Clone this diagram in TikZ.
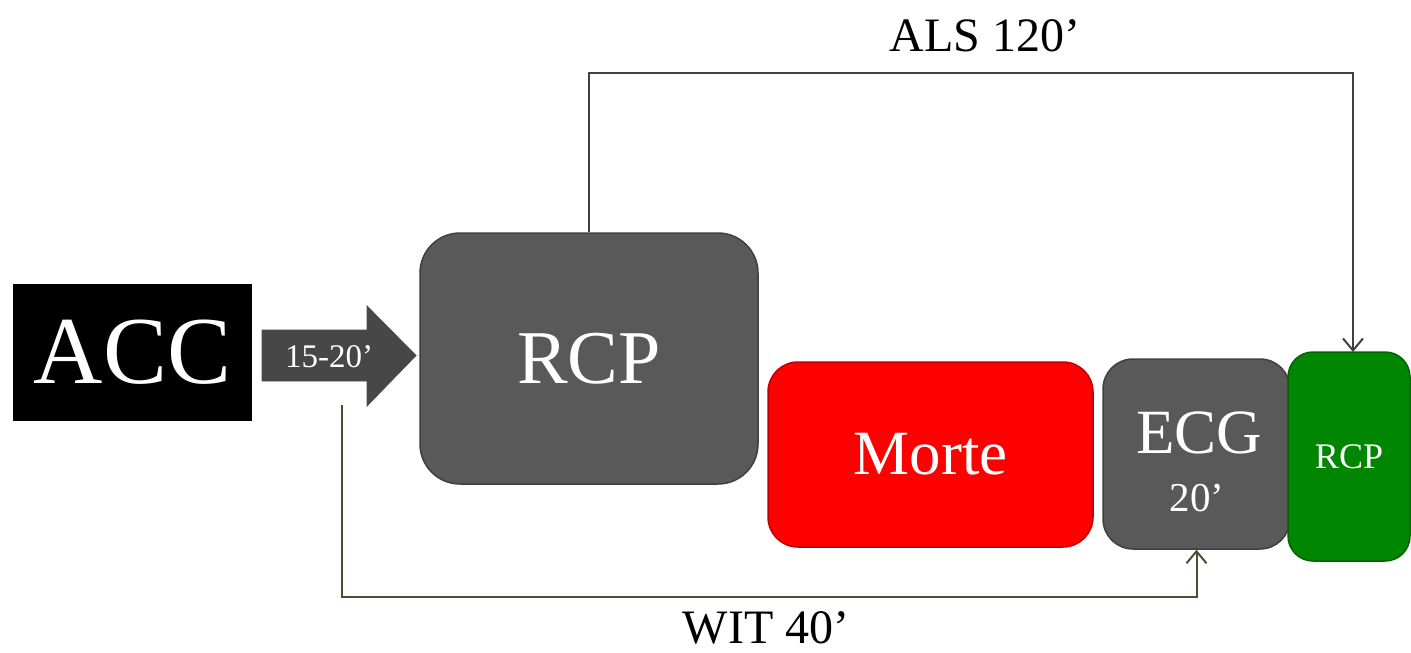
\documentclass[tikz,border=0pt]{standalone}
\usepackage{fontspec}
\setmainfont{Liberation Serif}
\usetikzlibrary{arrows.meta,calc}
\definecolor{boxgray}{RGB}{89,89,89}
\definecolor{boxedge}{RGB}{64,64,64}
\definecolor{mred}{RGB}{255,0,0}
\definecolor{mrededge}{RGB}{192,0,0}
\definecolor{mgreen}{RGB}{0,134,0}
\definecolor{mgreenedge}{RGB}{0,100,0}
\definecolor{alsline}{RGB}{64,64,64}
\definecolor{witline}{RGB}{80,75,50}
\tikzset{
  fs/.style={font=\fontsize{#1}{#1}\selectfont},
  graybox/.style={draw=boxedge, fill=boxgray, line width=1.5pt, rounded corners=#1, inner sep=0pt, text=white},
  redbox/.style={draw=mrededge, fill=mred, line width=1.5pt, rounded corners=#1, inner sep=0pt, text=white},
  greenbox/.style={draw=mgreenedge, fill=mgreen, line width=1.5pt, rounded corners=#1, inner sep=0pt, text=white},
  wtext/.style={text=white, inner sep=0pt},
  btext/.style={text=black, inner sep=0pt},
  alsconn/.style={draw=alsline, line width=2pt, -{Straight Barb[length=12pt,width=20pt,line width=2pt]}},
  witconn/.style={draw=witline, line width=2pt, -{Straight Barb[length=12pt,width=20pt,line width=2pt]}},
}
\begin{document}
\begin{tikzpicture}[x=1pt,y=-1pt]
\useasboundingbox (0,0) rectangle (1411,653);
% ACC
\node[fill=black, minimum width=239pt, minimum height=137pt, inner sep=0pt, text=white, fs=96] (acc) at (132.5,352.5) {ACC};
% 15-20 arrow
\fill[boxgray!80!black, draw=black!70, line width=0.8pt] (262,330) -- (367,330) -- (367,306) -- (416,355.5) -- (367,406) -- (367,381) -- (262,381) -- cycle;
\node[wtext, fs=33] (t1520) at (329,357) {15-20’};
% RCP big
\node[graybox=40pt, minimum width=338pt, minimum height=251pt, fs=76] (rcp) at (589,358.5) {RCP};
% Morte
\node[redbox=30pt, minimum width=325pt, minimum height=185pt, fs=63] (morte) at (930.5,454.5) {Morte};
% ECG
\node[graybox=30pt, minimum width=187pt, minimum height=190pt] (ecg) at (1196.5,454) {};
\node[wtext, fs=63, anchor=base] (ecgt) at (1199,453) {ECG};
\node[wtext, fs=41, anchor=base] (ecgm) at (1197,511) {20’};
% green RCP
\node[greenbox=25pt, minimum width=122pt, minimum height=209pt, fs=36] (grcp) at (1349,456.5) {RCP};
% ALS connector
\coordinate (alstop) at (589,73);
\coordinate (alsend) at (1353,352);
\draw[alsconn] (rcp.north) -- (rcp.north |- alstop) -| (alsend);
\node[btext, fs=48] (als) at (985,36) {ALS 120’};
% WIT connector
\coordinate (witstart) at (342,405);
\coordinate (witbot) at (342,597);
\draw[witconn] (witstart) -- (witbot) -| (ecg.south);
\node[btext, fs=48] (wit) at (766,628) {WIT 40’};
\end{tikzpicture}
\end{document}
